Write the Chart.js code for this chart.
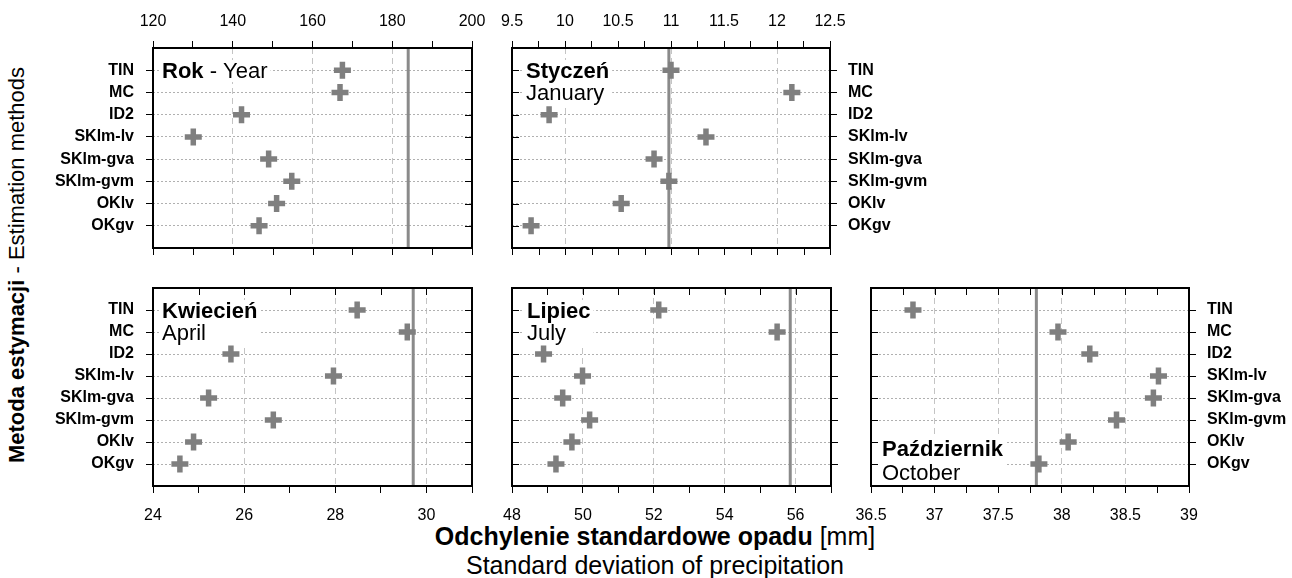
<!DOCTYPE html>
<html><head><meta charset="utf-8">
<script src="https://cdn.jsdelivr.net/npm/chart.js@4.4.0/dist/chart.umd.min.js"></script>
<style>
html,body{margin:0;padding:0;background:#fff;width:1292px;height:578px;overflow:hidden;position:relative;font-family:"Liberation Sans",Arial,Helvetica,sans-serif;}
canvas{position:absolute;}
.t{position:absolute;white-space:nowrap;color:#000;line-height:1;}
</style></head><body>
<div class="t" style="left:17px;top:265px;transform:translate(-50%,-50%) rotate(-90deg);font-size:22px;"><b>Metoda estymacji</b> - Estimation methods</div>
<div class="t" style="left:655px;top:536px;transform:translate(-50%,-50%);font-size:25px;"><b>Odchylenie standardowe opadu</b> [mm]</div>
<div class="t" style="left:655px;top:565px;transform:translate(-50%,-50%);font-size:25px;">Standard deviation of precipitation</div>
<script>
// ---- data ----
const methods = ['TIN','MC','ID2','SKlm-lv','SKlm-gva','SKlm-gvm','OKlv','OKgv'];
const yearValues    = [167.5, 166.9, 142.2, 130.1, 149.0, 154.8, 151.0, 146.6];
const januaryValues = [11.00, 12.14, 9.85, 11.33, 10.84, 10.98, 10.53, 9.68];
const aprilValues   = [28.48, 29.58, 25.71, 27.96, 25.22, 26.64, 24.89, 24.59];
const julyValues    = [52.14, 55.48, 48.89, 49.99, 49.43, 50.19, 49.69, 49.24];
const octoberValues = [36.83, 37.97, 38.22, 38.76, 38.72, 38.43, 38.05, 37.82];
const referenceValues = [184.0, 10.98, 29.71, 55.85, 37.80]; // year, Jan, Apr, Jul, Oct
const axisRanges = [[120,200],[9.5,12.5],[24,31],[48,57],[36.5,39]];
const tickSteps  = [10, 0.25, 1, 1, 0.25];
const labelSteps = [20, 0.5, 2, 2, 0.5];
const gridSteps  = [20, 1, 2, 2, 0.5];
const panelTitles = [
  [[['Rok',true],[' - Year',false]]],
  [[['Styczeń',true]],[['January',false]]],
  [[['Kwiecień',true]],[['April',false]]],
  [[['Lipiec',true]],[['July',false]]],
  [[['Październik',true]],[['October',false]]]
];

const FONT = '"Liberation Sans", Arial, Helvetica, sans-serif';
Chart.defaults.font.family = FONT;
Chart.defaults.color = '#000';
const isMult = (v, s) => Math.abs(v / s - Math.round(v / s)) < 1e-6;
const fmt = v => String(Math.round(v * 100) / 100);

const panels = [
  {area:{x:153,y:48,w:319,h:200}, xPos:'top',    yPos:'left',  yLabels:true,  mirror:{bottom:'out', right:'in'}, title:{dx:9,  lines:'top'}},
  {area:{x:512,y:48,w:318,h:200}, xPos:'top',    yPos:'right', yLabels:true,  mirror:{bottom:'out', left:'in'},  title:{dx:14, lines:'top'}},
  {area:{x:153,y:288,w:319,h:198},xPos:'bottom', yPos:'left',  yLabels:true,  mirror:{top:'in', right:'in'},     title:{dx:9,  lines:'top'}},
  {area:{x:512,y:288,w:319,h:198},xPos:'bottom', yPos:'right', yLabels:false, mirror:{top:'in', left:'in'},      title:{dx:15, lines:'top'}},
  {area:{x:871,y:288,w:318,h:198},xPos:'bottom', yPos:'right', yLabels:true,  mirror:{top:'in', left:'in'},      title:{dx:11, lines:'bottom'}}
];
const seriesList = [yearValues, januaryValues, aprilValues, julyValues, octoberValues];

function makeDeco(p, idx) {
  const TL = 7;
  return {
    id: 'deco' + idx,
    beforeDatasetsDraw(chart) {
      const ctx = chart.ctx, ca = chart.chartArea;
      const lines = panelTitles[idx];
      const x0 = ca.left + p.title.dx;
      const centers = p.title.lines === 'top'
        ? lines.map((_, i) => ca.top + 23 + i * 22)
        : lines.map((_, i) => ca.bottom - 13 - (lines.length - 1 - i) * 24);
      ctx.save();
      let maxW = 0;
      lines.forEach(segs => {
        let w = 0;
        segs.forEach(([t, b]) => { ctx.font = (b ? 'bold ' : '') + '22px ' + FONT; w += ctx.measureText(t).width; });
        maxW = Math.max(maxW, w);
      });
      ctx.fillStyle = '#fff';
      ctx.fillRect(x0 - 3, centers[0] - 11, maxW + 6, centers[centers.length - 1] - centers[0] + 22);
      ctx.fillStyle = '#000';
      ctx.textBaseline = 'middle';
      lines.forEach((segs, i) => {
        let x = x0;
        segs.forEach(([t, b]) => {
          ctx.font = (b ? 'bold ' : '') + '22px ' + FONT;
          ctx.fillText(t, x, centers[i] + 1);
          x += ctx.measureText(t).width;
        });
      });
      ctx.restore();
    },
    afterDraw(chart) {
      const ctx = chart.ctx, ca = chart.chartArea;
      const xs = chart.scales.x, ys = chart.scales.y;
      ctx.save();
      ctx.strokeStyle = '#000'; ctx.lineWidth = 1;
      ctx.beginPath();
      const m = p.mirror;
      if (m.top || m.bottom) {
        xs.ticks.forEach(t => {
          const px = Math.round(xs.getPixelForValue(t.value)) + 0.5;
          if (m.top) { const d = m.top === 'in' ? TL : -TL; ctx.moveTo(px, ca.top); ctx.lineTo(px, ca.top + d); }
          if (m.bottom) { const d = m.bottom === 'in' ? -TL : TL; ctx.moveTo(px, ca.bottom); ctx.lineTo(px, ca.bottom + d); }
        });
      }
      if (m.left || m.right) {
        ys.ticks.forEach(t => {
          const py = Math.round(ys.getPixelForValue(t.value)) + 0.5;
          if (m.left) { const d = m.left === 'in' ? TL : -TL; ctx.moveTo(ca.left, py); ctx.lineTo(ca.left + d, py); }
          if (m.right) { const d = m.right === 'in' ? -TL : TL; ctx.moveTo(ca.right, py); ctx.lineTo(ca.right + d, py); }
        });
      }
      ctx.stroke();
      ctx.lineWidth = 2;
      ctx.strokeRect(ca.left, ca.top, ca.right - ca.left, ca.bottom - ca.top);
      ctx.restore();
    }
  };
}

panels.forEach((p, idx) => {
  const M = {
    left: p.yPos === 'left' ? 140 : 26, right: p.yPos === 'right' ? 140 : 26,
    top: p.xPos === 'top' ? 60 : 26, bottom: p.xPos === 'bottom' ? 60 : 26
  };
  const W = p.area.w + M.left + M.right, H = p.area.h + M.top + M.bottom;
  const cv = document.createElement('canvas');
  cv.width = W; cv.height = H;
  cv.style.left = (p.area.x - M.left) + 'px'; cv.style.top = (p.area.y - M.top) + 'px';
  cv.style.width = W + 'px'; cv.style.height = H + 'px';
  document.body.appendChild(cv);
  const [mn, mx] = axisRanges[idx];
  const vals = seriesList[idx];
  const ref = referenceValues[idx];
  new Chart(cv, {
    type: 'scatter',
    data: {
      datasets: [
        { type: 'scatter', data: vals.map((v, i) => ({x: v, y: i})), pointStyle: 'cross',
          pointRadius: 8.5, pointHoverRadius: 8.5, borderWidth: 5.5, pointBorderWidth: 5.5,
          borderColor: '#7f7f7f', backgroundColor: '#7f7f7f', order: 1, clip: false },
        { type: 'line', data: [{x: ref, y: -1}, {x: ref, y: 8}], borderColor: '#8a8a8a',
          borderWidth: 3, pointRadius: 0, order: 2 }
      ]
    },
    options: {
      responsive: false, animation: false, devicePixelRatio: 1,
      layout: { padding: {
        left: p.yPos === 'left' ? 0 : M.left, right: p.yPos === 'right' ? 0 : M.right,
        top: p.xPos === 'top' ? 0 : M.top, bottom: p.xPos === 'bottom' ? 0 : M.bottom } },
      plugins: { legend: {display: false}, tooltip: {enabled: false} },
      scales: {
        x: {
          type: 'linear', position: p.xPos, min: mn, max: mx,
          ticks: { stepSize: tickSteps[idx], autoSkip: false, maxRotation: 0, minRotation: 0,
            padding: p.xPos === 'top' ? 10 : 13, font: {size: 16}, color: '#000',
            callback: v => isMult(v, labelSteps[idx]) ? fmt(v) : '' },
          grid: {
            color: c => (c.tick && isMult(c.tick.value, gridSteps[idx]) && c.tick.value > mn + 1e-6 && c.tick.value < mx - 1e-6) ? '#c4c4c4' : 'rgba(0,0,0,0)',
            lineWidth: 1, tickColor: '#000', tickLength: 7, tickWidth: 1 },
          border: { display: false, dash: [6, 4] },
          afterFit: s => { s.height = 60; s.paddingLeft = 0; s.paddingRight = 0; }
        },
        y: {
          type: 'linear', position: p.yPos, reverse: true, min: -1, max: 8,
          afterBuildTicks: s => { s.ticks = methods.map((_, i) => ({value: i})); },
          ticks: { display: p.yLabels, autoSkip: false, padding: p.yPos === 'left' ? 12 : 11,
            font: {size: 16, weight: 'bold'}, color: '#000', callback: v => methods[v] },
          grid: { color: '#b0b0b0', lineWidth: 1, tickColor: '#000', tickLength: 7, tickWidth: 1 },
          border: { display: false, dash: [2, 2] },
          afterFit: s => { s.width = 140; s.paddingTop = 0; s.paddingBottom = 0; }
        }
      }
    },
    plugins: [makeDeco(p, idx)]
  });
});
</script>
</body></html>
